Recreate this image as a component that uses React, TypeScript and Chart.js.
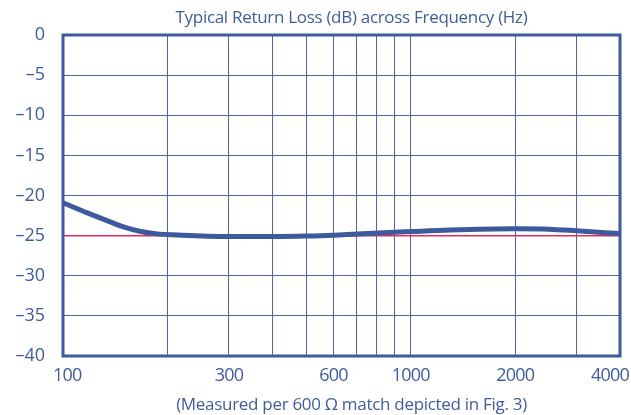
import React, { useEffect, useRef } from "react";
import { Chart, registerables } from "chart.js";

Chart.register(...registerables);

const freqs = [100, 118, 135, 150, 166, 184, 220, 300, 400, 500, 600, 700, 1000, 1300, 2000, 2500, 3000, 4000];
const returnLoss = [-20.9, -22.2, -23.2, -23.95, -24.45, -24.75, -24.95, -25.1, -25.1, -25.05, -24.95, -24.8, -24.5, -24.3, -24.15, -24.2, -24.4, -24.75];
const refFreqs = [100, 4000];
const refLevel = [-25, -25];
const gridFreqs = [100, 200, 300, 400, 500, 600, 700, 800, 900, 1000, 2000, 3000, 4000];
const labeledFreqs = [100, 300, 600, 1000, 2000, 4000];
const titleText = "Typical Return Loss (dB) across Frequency (Hz)";
const captionText = "(Measured per 600 \u03A9 match depicted in Fig. 3)";

const BLUE = "#3d5a9c";
const GRID = "#4c66a6";
const TEXT = "#3f5c9e";
const RED = "#e8285a";
const FONT = '"Open Sans", "Noto Sans", sans-serif';

const framePlugin = {
  id: "frameAndText",
  afterDraw(chart: any) {
    const { ctx, chartArea } = chart;
    const { left, right, top, bottom } = chartArea;
    const x = chart.scales.x;
    ctx.save();
    ctx.strokeStyle = BLUE;
    ctx.lineWidth = 3;
    ctx.strokeRect(left, top, right - left, bottom - top);

    ctx.fillStyle = TEXT;
    ctx.font = `18px ${FONT}`;
    (ctx as any).letterSpacing = "-0.8px";
    ctx.textBaseline = "middle";
    ctx.textAlign = "left";
    labeledFreqs.forEach((v) => {
      const s = String(v);
      const px = x.getPixelForValue(v);
      const w = ctx.measureText(s).width;
      let l = px - w / 2;
      l = Math.max(l, left - 10);
      l = Math.min(l, right + 9 - w);
      ctx.fillText(s, l, bottom + 20);
    });

    const cx = (left + right) / 2 + 10;
    ctx.textAlign = "center";
    ctx.font = `17px ${FONT}`;
    (ctx as any).letterSpacing = "-0.3px";
    ctx.fillText(titleText, cx, 18);
    ctx.fillText(captionText, cx, 405);
    ctx.restore();
  },
};

export default function App() {
  const ref = useRef<HTMLCanvasElement | null>(null);
  useEffect(() => {
    document.body.style.margin = "0";
    const canvas = ref.current;
    if (!canvas) return;
    const chart = new Chart(canvas, {
      type: "line",
      data: {
        datasets: [
          {
            data: freqs.map((f, i) => ({ x: f, y: returnLoss[i] })),
            borderColor: BLUE,
            borderWidth: 5,
            pointRadius: 0,
            cubicInterpolationMode: "monotone",
            order: 1,
          },
          {
            data: refFreqs.map((f, i) => ({ x: f, y: refLevel[i] })),
            borderColor: RED,
            borderWidth: 1.5,
            pointRadius: 0,
            order: 2,
          },
        ],
      },
      options: {
        animation: false,
        responsive: false,
        layout: { padding: { top: 35, left: 0, right: 11, bottom: 0 } },
        plugins: { legend: { display: false }, tooltip: { enabled: false }, title: { display: false } },
        scales: {
          x: {
            type: "logarithmic",
            min: 100,
            max: 4000,
            afterBuildTicks: (scale: any) => {
              scale.ticks = gridFreqs.map((v) => ({ value: v }));
            },
            afterFit: (scale: any) => {
              scale.height = 59;
              scale.paddingLeft = 0;
              scale.paddingRight = 0;
            },
            ticks: { display: false },
            grid: { color: GRID, lineWidth: 1, drawTicks: false },
            border: { display: false },
          },
          y: {
            min: -40,
            max: 0,
            afterFit: (scale: any) => {
              scale.width = 63;
            },
            ticks: {
              stepSize: 5,
              padding: 18,
              color: TEXT,
              font: { family: FONT, size: 18 },
              callback: (v: any) => (Number(v) < 0 ? "\u2013" + Math.abs(Number(v)) : "0"),
            },
            grid: { color: GRID, lineWidth: 1, drawTicks: false },
            border: { display: false },
          },
        },
      },
      plugins: [framePlugin],
    } as any);
    return () => chart.destroy();
  }, []);
  return (
    <div style={{ width: 631, height: 415, background: "#fff" }}>
      <canvas ref={ref} width={631} height={415} />
    </div>
  );
}
